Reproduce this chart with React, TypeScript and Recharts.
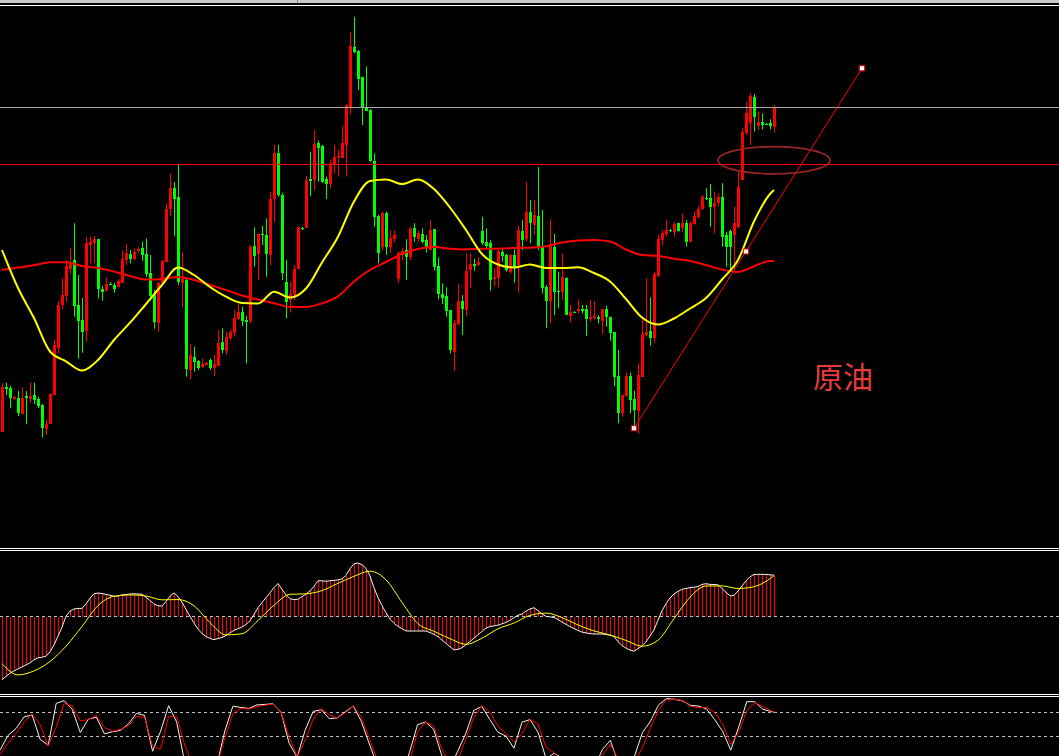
import React from 'react';
import { ComposedChart, Bar, Line, XAxis, YAxis, ReferenceLine, ReferenceDot } from 'recharts';

// ---------- price candles (crude oil), one per bar ----------
const openP = [
  56.83, 61.27, 61.17, 60.10, 60.20, 58.63, 60.40, 60.07, 60.50, 60.07,
  59.50, 57.10, 57.60, 60.53, 65.23, 69.50, 70.40, 73.10, 74.00, 69.50,
  68.00, 66.93, 75.50, 75.70, 76.10, 71.13, 70.90, 71.63, 71.50, 71.27,
  71.73, 74.00, 74.60, 74.10, 74.90, 75.17, 74.60, 72.67, 70.60, 67.73,
  71.67, 73.83, 79.10, 81.20, 80.27, 71.67, 72.00, 63.00, 64.27, 63.90,
  63.27, 63.53, 64.00, 63.17, 63.40, 65.80, 64.90, 66.17, 66.67, 68.07,
  68.83, 68.00, 67.90, 75.40, 74.60, 76.60, 76.47, 74.50, 80.10, 84.67,
  80.50, 71.83, 70.00, 70.50, 73.10, 77.20, 77.23, 82.10, 82.00, 85.73,
  85.40, 82.10, 81.60, 83.57, 84.30, 84.23, 85.50, 89.27, 95.33, 94.93,
  92.33, 89.23, 89.00, 83.90, 78.40, 75.33, 78.67, 75.30, 76.10, 72.10,
  74.50, 75.00, 74.33, 77.17, 76.07, 76.60, 76.00, 75.00, 77.10, 73.40,
  70.60, 70.40, 69.00, 64.83, 67.60, 69.90, 69.00, 73.00, 73.60, 73.50,
  76.93, 75.83, 75.67, 72.07, 72.17, 74.83, 74.50, 72.83, 74.50, 73.50,
  76.90, 76.07, 78.83, 77.50, 78.40, 75.40, 71.27, 69.93, 75.33, 70.93,
  70.83, 72.17, 68.43, 68.80, 68.90, 69.10, 69.10, 68.07, 68.20, 68.33,
  67.93, 69.10, 68.33, 66.77, 62.40, 58.67, 60.40, 62.40, 60.10, 58.93,
  62.33, 66.50, 66.90, 66.17, 72.40, 76.00, 76.60, 77.00, 76.83, 77.67,
  77.17, 77.67, 75.83, 77.60, 78.33, 79.07, 80.17, 80.17, 79.27, 79.73,
  80.33, 76.50, 76.93, 76.50, 77.33, 82.00, 86.67, 87.67, 90.33, 87.40,
  87.77, 87.63, 87.73, 87.33,
];
const highP = [
  61.67, 61.73, 61.40, 60.40, 60.90, 61.27, 60.90, 61.73, 61.73, 60.33,
  59.60, 58.00, 60.67, 66.00, 69.90, 72.17, 74.00, 75.17, 77.67, 72.50,
  70.20, 76.33, 76.33, 76.40, 76.10, 71.40, 72.27, 71.80, 71.73, 72.07,
  75.00, 75.60, 75.00, 75.17, 75.27, 75.83, 76.17, 74.50, 71.00, 71.83,
  74.00, 79.67, 82.67, 81.80, 83.50, 74.77, 72.17, 65.60, 65.33, 64.00,
  64.17, 63.83, 64.17, 64.50, 67.00, 67.17, 66.83, 67.00, 69.00, 69.60,
  69.33, 68.40, 75.50, 77.27, 76.67, 77.40, 78.17, 80.83, 85.50, 85.50,
  80.73, 74.00, 71.83, 73.50, 77.33, 77.30, 82.43, 84.83, 87.00, 85.93,
  85.50, 82.33, 84.00, 85.50, 85.00, 87.40, 89.57, 96.83, 98.33, 95.00,
  92.33, 93.33, 89.07, 84.67, 78.50, 78.83, 78.83, 77.00, 77.00, 74.83,
  75.27, 76.07, 77.33, 77.67, 76.93, 77.17, 76.50, 78.00, 77.10, 74.27,
  71.67, 71.27, 69.00, 68.00, 71.60, 70.50, 74.67, 74.67, 74.13, 74.27,
  78.33, 77.17, 76.00, 73.17, 75.17, 75.17, 74.60, 74.60, 75.07, 77.43,
  78.00, 81.83, 80.00, 80.00, 83.30, 79.00, 71.50, 78.07, 76.60, 72.83,
  74.67, 72.27, 69.50, 68.90, 70.07, 69.50, 69.50, 70.00, 69.90, 68.50,
  69.10, 69.43, 68.33, 66.77, 65.00, 60.50, 62.73, 62.73, 60.93, 63.67,
  68.17, 72.17, 70.27, 72.83, 76.50, 77.00, 78.00, 77.10, 77.83, 77.73,
  78.67, 78.00, 77.83, 78.83, 79.40, 80.50, 81.17, 81.60, 80.83, 80.67,
  81.67, 76.83, 77.07, 79.33, 82.83, 87.17, 89.83, 90.67, 90.60, 88.83,
  88.67, 87.70, 88.07, 89.50,
];
const lowP = [
  56.80, 60.50, 59.17, 60.00, 58.40, 58.60, 57.57, 59.73, 59.60, 59.17,
  56.27, 56.53, 57.60, 60.53, 64.67, 69.10, 69.83, 72.60, 68.33, 64.13,
  64.73, 65.83, 73.67, 73.63, 70.17, 69.93, 70.90, 71.50, 70.73, 71.27,
  71.73, 73.50, 73.67, 74.00, 74.67, 73.93, 72.33, 70.00, 67.13, 66.83,
  71.50, 73.83, 78.40, 76.43, 71.50, 69.27, 62.33, 62.07, 62.83, 63.00,
  63.17, 63.50, 63.00, 62.40, 63.40, 64.67, 64.50, 66.00, 66.33, 68.00,
  67.40, 63.67, 67.67, 73.33, 72.00, 75.50, 72.33, 73.50, 77.83, 80.33,
  72.00, 68.17, 68.73, 70.00, 73.10, 77.00, 77.23, 80.40, 81.00, 81.83,
  81.73, 80.10, 81.17, 82.67, 82.33, 84.23, 82.33, 88.60, 94.67, 91.00,
  87.50, 88.93, 83.83, 77.33, 73.67, 75.00, 74.50, 74.67, 75.73, 71.73,
  74.00, 72.00, 74.00, 75.83, 75.83, 75.67, 74.73, 74.93, 72.93, 70.07,
  69.60, 68.33, 64.67, 62.93, 67.50, 66.50, 68.40, 71.17, 72.93, 73.40,
  75.50, 75.07, 70.93, 71.33, 71.27, 73.83, 72.83, 72.60, 71.73, 70.73,
  75.00, 75.83, 75.67, 76.50, 75.00, 70.67, 67.17, 67.67, 68.50, 69.17,
  70.00, 68.50, 67.73, 68.70, 68.67, 68.67, 66.40, 67.83, 68.07, 67.67,
  66.60, 67.33, 65.93, 61.40, 57.67, 58.33, 60.33, 58.67, 57.33, 56.67,
  62.33, 66.33, 65.43, 65.67, 72.33, 75.43, 76.33, 76.80, 76.33, 76.83,
  76.83, 75.33, 75.77, 77.50, 78.17, 79.00, 80.00, 77.33, 76.67, 79.33,
  75.33, 73.33, 73.00, 72.67, 77.17, 82.00, 86.50, 85.50, 86.83, 87.00,
  87.07, 87.50, 87.07, 86.73,
];
const closeP = [
  61.27, 61.10, 60.23, 60.30, 58.73, 60.20, 60.23, 60.43, 60.00, 59.43,
  57.23, 57.60, 60.60, 65.50, 69.47, 70.47, 73.43, 73.83, 69.40, 67.93,
  66.80, 75.73, 75.83, 76.10, 71.10, 70.80, 71.60, 71.53, 71.07, 71.90,
  74.10, 74.70, 74.10, 74.83, 75.07, 74.50, 72.60, 70.43, 67.83, 71.67,
  73.90, 79.10, 81.20, 80.10, 71.83, 72.13, 63.07, 64.50, 63.80, 63.23,
  63.60, 63.67, 63.17, 63.60, 65.73, 65.00, 66.33, 66.83, 68.17, 68.83,
  67.90, 67.83, 75.33, 74.40, 76.60, 76.47, 74.60, 80.10, 84.67, 80.50,
  72.67, 69.83, 70.60, 73.07, 77.27, 77.10, 82.00, 81.90, 85.60, 85.23,
  81.83, 81.60, 83.60, 84.33, 84.43, 85.67, 89.50, 95.40, 94.83, 92.10,
  89.27, 88.93, 83.93, 78.33, 74.73, 78.67, 75.33, 76.17, 76.50, 74.67,
  74.93, 74.33, 77.10, 76.27, 76.67, 75.83, 75.27, 77.00, 73.33, 70.60,
  70.23, 68.93, 65.00, 67.67, 69.90, 69.10, 72.90, 73.60, 73.40, 73.83,
  75.67, 75.40, 72.00, 72.27, 74.90, 74.40, 73.00, 74.50, 73.17, 77.00,
  76.05, 78.83, 77.67, 78.50, 75.40, 71.17, 69.93, 75.57, 70.83, 70.83,
  72.27, 68.50, 68.77, 68.73, 69.10, 68.93, 68.10, 68.33, 68.40, 68.07,
  69.10, 68.27, 66.73, 62.33, 58.73, 60.50, 62.40, 60.00, 59.00, 62.50,
  66.60, 66.83, 66.23, 72.60, 76.07, 76.67, 77.00, 76.87, 77.60, 76.93,
  77.73, 75.83, 77.67, 78.40, 79.07, 80.27, 80.07, 79.33, 79.67, 80.33,
  76.27, 75.33, 75.33, 77.67, 81.33, 86.83, 88.67, 90.40, 88.33, 87.83,
  87.50, 87.57, 87.43, 89.33,
];

// ---------- moving averages (read every 4th bar, plus the last bar) ----------
const maFast = [
  75.00, 71.20, 68.20, 64.85, 63.87, 62.95, 64.00, 66.00, 67.73, 69.60,
  71.50, 73.25, 72.50, 71.30, 70.33, 69.70, 69.65, 70.83, 70.25, 71.15,
  73.75, 76.33, 79.85, 81.90, 82.05, 81.60, 82.05, 81.10, 79.25, 77.00,
  74.60, 73.55, 73.25, 73.55, 73.20, 73.20, 73.27, 72.70, 71.85, 70.10,
  68.25, 67.55, 68.15, 69.15, 70.20, 72.05, 74.00, 77.85, 80.60, 81.00,
];
const maSlow = [
  73.02, 73.25, 73.47, 73.77, 73.78, 73.40, 73.20, 72.85, 72.40, 72.05,
  72.10, 72.30, 72.00, 71.50, 71.00, 70.45, 70.05, 69.67, 69.32, 69.30,
  69.67, 70.37, 71.85, 73.00, 73.80, 74.60, 75.10, 75.30, 75.13, 75.05,
  75.13, 75.13, 75.20, 75.23, 75.38, 75.75, 75.95, 76.00, 75.85, 75.05,
  74.50, 74.40, 74.13, 73.90, 73.50, 73.05, 72.80, 73.37, 73.90, 73.90,
];

// ---------- MACD ----------
const macdHist = [
  -0.633, -0.599, -0.566, -0.544, -0.524, -0.504, -0.484, -0.464, -0.433, -0.413,
  -0.407, -0.397, -0.354, -0.284, -0.197, -0.107, 0.003, 0.054, 0.075, 0.081,
  0.081, 0.126, 0.183, 0.227, 0.235, 0.229, 0.221, 0.212, 0.203, 0.205,
  0.216, 0.220, 0.225, 0.227, 0.225, 0.223, 0.193, 0.159, 0.125, 0.107,
  0.105, 0.150, 0.204, 0.236, 0.199, 0.142, 0.071, 0.001, -0.066, -0.126,
  -0.171, -0.201, -0.219, -0.232, -0.221, -0.210, -0.190, -0.164, -0.138, -0.122,
  -0.106, -0.079, -0.043, 0.021, 0.089, 0.139, 0.188, 0.238, 0.289, 0.330,
  0.271, 0.218, 0.178, 0.169, 0.173, 0.198, 0.225, 0.256, 0.302, 0.358,
  0.356, 0.353, 0.357, 0.361, 0.367, 0.376, 0.410, 0.479, 0.527, 0.535,
  0.518, 0.480, 0.406, 0.287, 0.189, 0.108, 0.037, -0.027, -0.068, -0.099,
  -0.122, -0.144, -0.145, -0.145, -0.145, -0.145, -0.145, -0.161, -0.178, -0.201,
  -0.235, -0.268, -0.303, -0.334, -0.328, -0.312, -0.282, -0.249, -0.216, -0.182,
  -0.149, -0.116, -0.100, -0.094, -0.086, -0.073, -0.059, -0.038, -0.011, 0.013,
  0.025, 0.055, 0.075, 0.088, 0.059, 0.026, 0.001, -0.004, -0.009, -0.030,
  -0.056, -0.078, -0.101, -0.121, -0.139, -0.156, -0.164, -0.171, -0.175, -0.175,
  -0.175, -0.180, -0.187, -0.201, -0.251, -0.290, -0.316, -0.336, -0.347, -0.322,
  -0.294, -0.254, -0.194, -0.134, -0.037, 0.058, 0.128, 0.185, 0.225, 0.251,
  0.272, 0.280, 0.289, 0.293, 0.300, 0.321, 0.328, 0.321, 0.320, 0.317,
  0.281, 0.242, 0.207, 0.211, 0.255, 0.306, 0.356, 0.397, 0.420, 0.422,
  0.422, 0.420, 0.417, 0.413,
];
const macdSignal = [
  -0.472, -0.584, -0.544, -0.450, -0.297, -0.099, 0.110, 0.202, 0.216, 0.205,
  0.167, 0.169, 0.107, -0.062, -0.184, -0.172, -0.040, 0.112, 0.222, 0.227,
  0.259, 0.332, 0.402, 0.453, 0.367, 0.141, -0.072, -0.148, -0.222, -0.278,
  -0.217, -0.123, -0.065, 0.011, 0.034, -0.011, -0.085, -0.144, -0.185, -0.239,
  -0.297, -0.237, -0.022, 0.193, 0.305, 0.306, 0.280, 0.298, 0.378, 0.408,
];

// ---------- Stochastic (read every 2nd bar, plus the last bar) ----------
const stochK = [
  32.9, 51.3, 60.0, 74.5, 76.9, 46.3, 39.1, 91.4, 94.8, 84.0,
  55.0, 71.6, 74.1, 53.4, 55.9, 57.6, 65.8, 78.9, 76.3, 31.6,
  56.6, 88.6, 68.1, 17.9, 1.6, 0.4, 0.4, 14.1, 56.9, 87.9,
  86.3, 85.1, 89.5, 90.1, 91.0, 80.4, 41.6, 24.1, 57.9, 81.4,
  83.4, 72.4, 73.3, 80.9, 88.0, 68.8, 40.4, 14.1, 2.9, 0.4,
  0.4, 30.4, 64.8, 68.1, 59.1, 26.6, 10.4, 31.6, 53.6, 82.6,
  87.6, 71.1, 55.4, 50.5, 35.4, 67.9, 71.1, 55.4, 22.3, 28.9,
  23.5, 10.4, 2.9, 2.9, 10.4, 33.5, 45.1, 16.6, 7.9, 25.0,
  55.0, 69.1, 89.4, 97.4, 96.5, 94.4, 88.9, 88.0, 84.3, 71.1,
  56.3, 32.9, 62.0, 93.6, 93.4, 83.9, 81.4, 80.0,
];
const stochD = [
  27.9, 41.6, 54.1, 67.4, 78.4, 64.8, 37.9, 61.6, 91.4, 88.1,
  69.4, 71.1, 76.5, 61.1, 56.6, 59.0, 63.4, 75.0, 74.1, 37.9,
  34.1, 75.1, 75.3, 39.1, 14.1, 2.9, 1.6, 12.9, 47.9, 78.4,
  85.0, 84.3, 87.1, 89.1, 90.6, 79.9, 49.8, 24.6, 45.4, 71.6,
  84.9, 77.3, 73.3, 79.6, 88.3, 74.1, 47.1, 20.4, 7.9, 1.6,
  2.9, 17.9, 56.0, 68.1, 63.0, 34.8, 15.4, 20.4, 46.6, 73.8,
  88.3, 80.6, 63.5, 53.4, 43.4, 53.5, 71.3, 65.5, 36.6, 29.6,
  20.4, 10.4, 4.1, 5.4, 14.1, 26.6, 40.0, 21.6, 10.4, 17.9,
  36.0, 60.8, 82.9, 96.0, 96.6, 95.0, 87.9, 85.9, 86.6, 80.1,
  66.0, 40.0, 55.4, 82.5, 92.3, 87.4, 82.3, 80.4,
];

// ---------- annotations ----------
const resistanceLevel = 83.55; // red horizontal line
const highLevel = 89.25; // grey horizontal line
const trendStart = { x: 158, y: 57.17 };
const trendMid = { x: 186, y: 74.85 };
const trendEnd = { x: 215, y: 93.17 };
const circleAt = { x: 193, y: 83.97 };
const labelText = '原油';

// ---------- layout constants ----------
const SLOTS = 265; // bars + empty space on the right (4px per bar)
const CW = 1060;
const UP = '#ff0000';
const DOWN = '#00ff00';

const maIdx = [...Array.from({ length: 49 }, (_, k) => k * 4), 193];
const stochIdx = [...Array.from({ length: 97 }, (_, k) => k * 2), 193];

const rows: any[] = Array.from({ length: SLOTS }, (_, i) => ({ i }));
openP.forEach((v, i) => {
  rows[i].o = v;
  rows[i].h = highP[i];
  rows[i].l = lowP[i];
  rows[i].c = closeP[i];
  rows[i].hist = macdHist[i];
});
maIdx.forEach((idx, k) => {
  rows[idx].maF = maFast[k];
  rows[idx].maS = maSlow[k];
  rows[idx].sig = macdSignal[k];
});
stochIdx.forEach((idx, k) => {
  rows[idx].k = stochK[k];
  rows[idx].d = stochD[k];
});

const candleRange = (d: any) => (d.h == null ? null : [d.l, d.h]);

function Candle(props: any) {
  const { x, y, width, height, payload } = props;
  if (!payload || payload.o == null || x == null) return null;
  const { o, h, l, c } = payload;
  const color = c >= o ? UP : DOWN;
  const k = h > l ? height / (h - l) : 0;
  const top = y + (h - Math.max(o, c)) * k;
  const bot = y + (h - Math.min(o, c)) * k;
  const left = Math.floor(x);
  const cx = left + Math.floor(width / 2) + 0.5;
  return (
    <g>
      <line x1={cx} x2={cx} y1={y} y2={y + height} stroke={color} strokeWidth={1} />
      <rect x={left} y={top} width={width} height={Math.max(1, bot - top)} fill={color} shapeRendering="crispEdges" />
    </g>
  );
}

function HistBar(props: any) {
  const { x, y, width, height } = props;
  if (x == null || height == null) return null;
  const top = height < 0 ? y + height : y;
  const h = Math.abs(height);
  return <rect x={Math.floor(x)} y={top} width={Math.max(1, width)} height={h} fill="#ff0000" shapeRendering="crispEdges" />;
}

const Square = (p: any) => (
  <rect x={p.cx - 2.5} y={p.cy - 2.5} width={5} height={5} fill="#ffffff" stroke="#ff0000" strokeWidth={1} />
);
const Ellipse = (p: any) => (
  <ellipse cx={p.cx} cy={p.cy} rx={56} ry={13.6} fill="none" stroke="#9a2424" strokeWidth={1.8} />
);

const hLine = (top: number) => (
  <div style={{ position: 'absolute', left: 0, top, width: 1059, height: 1, background: '#ffffff' }} />
);

export default function App() {
  return (
    <div
      style={{
        position: 'absolute',
        left: 0,
        top: 0,
        width: 1059,
        height: 756,
        overflow: 'hidden',
        background: '#000000',
      }}
    >
      {/* main price window */}
      <div style={{ position: 'absolute', left: 0, top: 0 }}>
        <ComposedChart width={CW} height={547} data={rows} margin={{ top: 0, right: 0, bottom: 0, left: 0 }}>
          <XAxis dataKey="i" type="category" hide />
          <YAxis type="number" domain={[45.3, 100]} hide allowDataOverflow />
          <ReferenceLine y={highLevel} stroke="#a8a8a8" strokeWidth={1} ifOverflow="visible" />
          <ReferenceLine y={resistanceLevel} stroke="#ff0000" strokeWidth={1} ifOverflow="visible" />
          <Bar dataKey={candleRange} barSize={3} shape={Candle} isAnimationActive={false} />
          <Line
            type="monotone"
            dataKey="maS"
            stroke="#ff0000"
            strokeWidth={2}
            dot={false}
            activeDot={false}
            connectNulls
            isAnimationActive={false}
          />
          <Line
            type="monotone"
            dataKey="maF"
            stroke="#ffff00"
            strokeWidth={2}
            dot={false}
            activeDot={false}
            connectNulls
            isAnimationActive={false}
          />
          <ReferenceLine
            segment={[trendStart, trendEnd]}
            stroke="#ff0000"
            strokeWidth={1}
            ifOverflow="visible"
          />
          <ReferenceDot x={circleAt.x} y={circleAt.y} r={1} shape={Ellipse} ifOverflow="visible" />
          <ReferenceDot x={trendStart.x} y={trendStart.y} r={2} shape={Square} ifOverflow="visible" />
          <ReferenceDot x={trendMid.x} y={trendMid.y} r={2} shape={Square} ifOverflow="visible" />
          <ReferenceDot x={trendEnd.x} y={trendEnd.y} r={2} shape={Square} ifOverflow="visible" />
        </ComposedChart>
      </div>

      {/* MACD window */}
      <div style={{ position: 'absolute', left: 0, top: 551 }}>
        <ComposedChart width={CW} height={143} data={rows} margin={{ top: 0, right: 0, bottom: 0, left: 0 }}>
          <XAxis dataKey="i" type="category" hide />
          <YAxis type="number" domain={[-0.775, 0.655]} hide allowDataOverflow />
          <ReferenceLine y={0} stroke="#c0c0c0" strokeDasharray="3 3" strokeWidth={1} />
          <Bar dataKey="hist" fill="#ff0000" barSize={1} shape={HistBar} isAnimationActive={false} />
          <Line
            dataKey="hist"
            stroke="#f4f4ec"
            strokeWidth={1}
            dot={false}
            activeDot={false}
            isAnimationActive={false}
          />
          <Line
            type="monotone"
            dataKey="sig"
            stroke="#ffff00"
            strokeWidth={1}
            dot={false}
            activeDot={false}
            connectNulls
            isAnimationActive={false}
          />
        </ComposedChart>
      </div>

      {/* Stochastic window */}
      <div style={{ position: 'absolute', left: 0, top: 697 }}>
        <ComposedChart width={CW} height={80} data={rows} margin={{ top: 0, right: 0, bottom: 0, left: 0 }}>
          <XAxis dataKey="i" type="category" hide />
          <YAxis type="number" domain={[-0.625, 99.375]} hide allowDataOverflow />
          <ReferenceLine y={80} stroke="#c0c0c0" strokeDasharray="3 3" strokeWidth={1} />
          <ReferenceLine y={50} stroke="#c0c0c0" strokeDasharray="3 3" strokeWidth={1} />
          <Line
            dataKey="k"
            stroke="#f4f4ec"
            strokeWidth={1}
            dot={false}
            activeDot={false}
            connectNulls
            isAnimationActive={false}
          />
          <Line
            dataKey="d"
            stroke="#ff0000"
            strokeWidth={1}
            dot={false}
            activeDot={false}
            connectNulls
            isAnimationActive={false}
          />
        </ComposedChart>
      </div>

      {/* window frame lines */}
      <div style={{ position: 'absolute', left: 0, top: 0, width: 1059, height: 3, background: '#c8c8c8' }} />
      <div style={{ position: 'absolute', left: 297, top: 0, width: 1, height: 3, background: '#808080' }} />
      {hLine(5)}
      {hLine(548)}
      {hLine(550)}
      {hLine(694)}
      {hLine(696)}

      {/* label */}
      <svg width={1059} height={756} style={{ position: 'absolute', left: 0, top: 0, pointerEvents: 'none' }}>
        <text
          x={813}
          y={388}
          fill="#e63c3c"
          fontSize={30}
          fontFamily='"Noto Sans CJK SC", "Noto Sans", sans-serif'
        >
          {labelText}
        </text>
      </svg>
    </div>
  );
}
